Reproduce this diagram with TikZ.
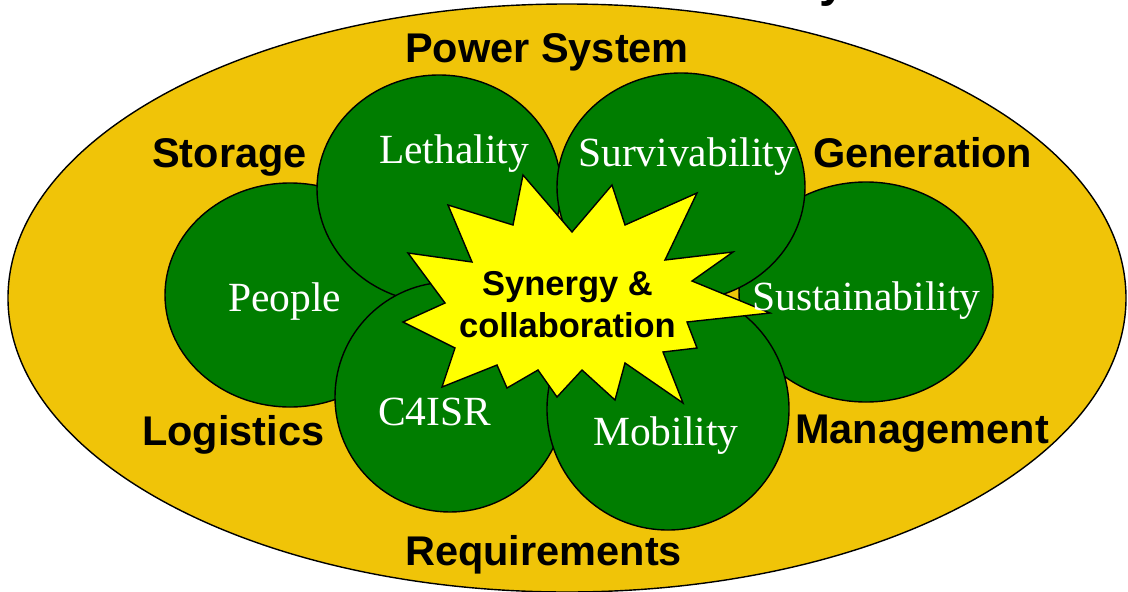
\documentclass[tikz,border=0pt]{standalone}
\usepackage{fontspec}
\setmainfont{Liberation Serif}
\newfontfamily\labelfont{Liberation Sans}
\usetikzlibrary{shapes.geometric}
\definecolor{gold}{RGB}{240,196,8}
\definecolor{leaf}{RGB}{0,125,0}
\definecolor{burst}{RGB}{255,255,0}
\begin{document}
\begin{tikzpicture}[x=1pt,y=-1pt,
  outline/.style={draw=black, line width=1.4pt},
  area/.style={outline, ellipse, fill=leaf, inner sep=0pt},
  theme/.style={font=\labelfont\bfseries\fontsize{41.5}{48}\selectfont, text=black, inner sep=0pt, anchor=base west},
  pillar/.style={font=\fontsize{41.5}{48}\selectfont, text=white, inner sep=0pt, anchor=base west},
  core/.style={font=\labelfont\bfseries\fontsize{34.5}{42}\selectfont, text=black, inner sep=0pt, anchor=base}]
\useasboundingbox (0,0) rectangle (1128,592);

% heading, mostly above the page
\node[overlay, font=\labelfont\bfseries\fontsize{48}{50}\selectfont, inner sep=0pt, anchor=base west] (heading) at (819,-4) {y};

% power system field
\node[outline, ellipse, fill=gold, minimum width=1118pt, minimum height=588pt, inner sep=0pt] (field) at (567,298) {};

% capability circles, back to front
\node[area, minimum width=250pt, minimum height=224pt] (people) at (290,295) {};
\node[area, minimum width=244pt, minimum height=228pt] (lethality) at (439,189) {};
\node[area, minimum width=230pt, minimum height=230pt] (c4isr) at (450,397) {};
\node[area, minimum width=254pt, minimum height=220pt] (sustain) at (866,292) {};
\node[area, minimum width=248pt, minimum height=228pt] (surviv) at (681,187) {};
\node[area, minimum width=242pt, minimum height=242pt] (mobility) at (668,409) {};

% central burst
\draw[outline, fill=burst, line join=miter]
  (523,175) -- (572,232) -- (612,185) -- (625,225) -- (697,193) -- (665,260)
  -- (733,252) -- (692,281) -- (770,313) -- (687,322) -- (697,348) -- (663,352)
  -- (683,403) -- (625,363) -- (615,400) -- (582,370) -- (557,397) -- (538,370)
  -- (507,388) -- (497,365) -- (442,387) -- (455,348) -- (403,322) -- (445,303)
  -- (408,253) -- (472,262) -- (448,205) -- (513,225) -- cycle;
\node[core] (syn1) at (567.5,295) {Synergy \&};
\node[core] (syn2) at (567.5,337) {collaboration};

% capability labels
\node[pillar] (tPeople) at (228,311) {People};
\node[pillar] (tLeth) at (379,163) {Lethality};
\node[pillar] (tSurv) at (578,166) {Survivability};
\node[pillar] (tSust) at (752,310) {Sustainability};
\node[pillar] (tC4) at (378,425) {C4ISR};
\node[pillar] (tMob) at (593,445) {Mobility};

% power system themes
\node[theme] (tPower) at (405,62) {Power System};
\node[theme] (tStor) at (152,167) {Storage};
\node[theme] (tGen) at (813,167) {Generation};
\node[theme] (tLog) at (142,445) {Logistics};
\node[theme] (tMan) at (795,443) {Management};
\node[theme] (tReq) at (405,565) {Requirements};
\end{tikzpicture}
\end{document}
